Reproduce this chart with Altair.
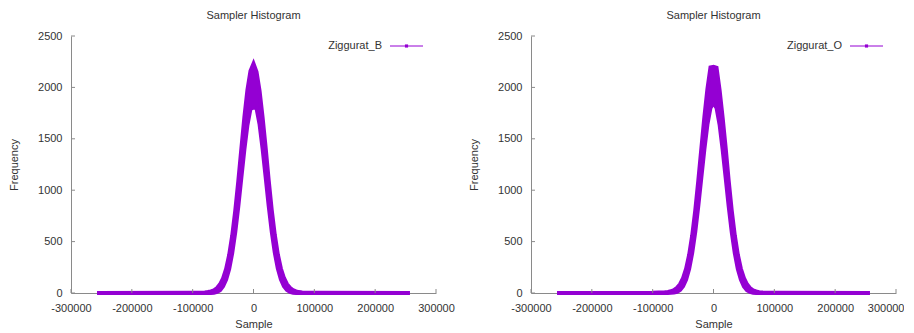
import altair as alt
import pandas as pd

# ---------------- data ----------------
X = [-257000, -100000, -90000, -80000, -75000, -70000, -65000, -60000, -55000,
     -50000, -45000, -40000, -35000, -30000, -25000, -20000, -15000, -10000,
     -5000, 0, 5000, 10000, 15000, 20000, 25000, 30000, 35000, 40000, 45000,
     50000, 55000, 60000, 65000, 70000, 75000, 80000, 90000, 100000, 257000]

# Ziggurat_B : upper / lower edge of the noisy band
B_UP = [0, 2, 3, 5, 9, 15, 26, 48, 84, 143, 234, 370, 558, 800, 1088, 1402, 1710, 1975,
        2160, 2230, 2150, 1965, 1705, 1410, 1095, 805, 565, 375, 238, 146, 86, 50, 27,
        16, 9, 5, 3, 2, 0]
B_LO = [0, 0, 0, 0, 0, 1, 3, 10, 28, 65, 130, 234, 388, 592, 842, 1120, 1395, 1634,
        1790, 1805, 1795, 1640, 1400, 1125, 845, 595, 392, 238, 132, 66, 29, 11, 3,
        1, 0, 0, 0, 0, 0]

# Ziggurat_O : upper / lower edge of the noisy band
O_UP = [0, 2, 4, 7, 11, 17, 28, 50, 86, 145, 236, 372, 560, 803, 1092, 1405, 1712, 1985,
        2195, 2200, 2190, 1975, 1708, 1412, 1090, 800, 560, 372, 236, 144, 84, 48, 26,
        15, 8, 4, 3, 2, 0]
O_LO = [0, 0, 0, 0, 1, 2, 4, 11, 29, 66, 131, 236, 390, 594, 845, 1122, 1398, 1640,
        1800, 1850, 1800, 1638, 1396, 1120, 842, 590, 388, 234, 130, 64, 28, 10, 3,
        1, 0, 0, 0, 0, 0]

SERIES = ["Ziggurat_B", "Ziggurat_O"]
X_TICKS = [-300000, -200000, -100000, 0, 100000, 200000, 300000]
Y_TICKS = [0, 500, 1000, 1500, 2000, 2500]

PURPLE = "#9400D3"
AXIS_GREY = "#8a8a8a"
TEXT = "#333333"
FONT = "Liberation Sans"
W, H = 365, 257


def panel(up, lo, name, last_panel=False):
    df = pd.DataFrame({"x": X, "up": up, "lo": lo})
    xt = pd.DataFrame({"t": X_TICKS})
    yt = pd.DataFrame({"t": Y_TICKS})
    leg = pd.DataFrame({"name": [name]})

    xscale = alt.Scale(domain=[-300000, 300000], nice=False, zero=False)
    yscale = alt.Scale(domain=[0, 2500], nice=False)

    xaxis_extra = {}
    if last_panel:
        last = X_TICKS[-1]
        xaxis_extra = dict(
            labelAlign={"condition": {"test": f"datum.value == {last}", "value": "right"},
                        "value": "center"},
            labelOffset={"condition": {"test": f"datum.value == {last}", "value": 8},
                         "value": 0},
        )

    base = alt.Chart(df)
    area = base.mark_area(color=PURPLE, opacity=1).encode(
        x=alt.X("x:Q", scale=xscale, title="Sample",
                axis=alt.Axis(values=X_TICKS, grid=False,
                              ticks=False, tickSize=0, labelPadding=9.5,
                              titlePadding=5, labelExpr="toString(datum.value)",
                              domainColor=AXIS_GREY, labelColor=TEXT,
                              titleColor=TEXT, labelFont=FONT, titleFont=FONT,
                              labelFontSize=11, titleFontSize=11,
                              titleFontWeight="normal", labelFlush=False,
                              labelOverlap=False, **xaxis_extra)),
        y=alt.Y("lo:Q", scale=yscale, title="Frequency",
                axis=alt.Axis(values=Y_TICKS, grid=False,
                              ticks=False, tickSize=0, labelPadding=9,
                              titlePadding=18.5, domainColor=AXIS_GREY,
                              labelExpr="toString(datum.value)",
                              labelColor=TEXT, titleColor=TEXT, labelFont=FONT,
                              titleFont=FONT, labelFontSize=11, titleFontSize=11,
                              titleFontWeight="normal", labelFlush=False)),
        y2="up:Q",
    )
    line_up = base.mark_line(color=PURPLE, strokeWidth=4).encode(
        x=alt.X("x:Q", scale=xscale, title="Sample"),
        y=alt.Y("up:Q", scale=yscale, title="Frequency"),
    )
    line_lo = base.mark_line(color=PURPLE, strokeWidth=4).encode(
        x=alt.X("x:Q", scale=xscale, title="Sample"),
        y=alt.Y("lo:Q", scale=yscale, title="Frequency"),
    )
    xticks = alt.Chart(xt).mark_rule(color=AXIS_GREY, strokeWidth=1).encode(
        x=alt.X("t:Q", scale=xscale, title="Sample"),
        y=alt.value(H), y2=alt.value(H - 4),
    )
    yticks = alt.Chart(yt).mark_rule(color=AXIS_GREY, strokeWidth=1).encode(
        y=alt.Y("t:Q", scale=yscale, title="Frequency"),
        x=alt.value(0), x2=alt.value(4),
    )
    legtext = alt.Chart(leg).mark_text(
        align="right", baseline="middle", font=FONT, fontSize=11, color=TEXT
    ).encode(text="name:N", x=alt.value(311), y=alt.value(10))
    legline = alt.Chart(leg).mark_rule(color=PURPLE, strokeWidth=1).encode(
        x=alt.value(319), x2=alt.value(352), y=alt.value(10))
    legpt = alt.Chart(leg).mark_square(color=PURPLE, size=10, opacity=1).encode(
        x=alt.value(335.5), y=alt.value(10))

    return alt.layer(area, line_up, line_lo, xticks, yticks, legtext, legline, legpt).properties(
        width=W, height=H,
        title=alt.TitleParams("Sampler Histogram", font=FONT, fontSize=11,
                              fontWeight="normal", color=TEXT, offset=9.5,
                              anchor="middle"),
    )


chart = alt.hconcat(
    panel(B_UP, B_LO, SERIES[0]),
    panel(O_UP, O_LO, SERIES[1], last_panel=True),
    spacing=95, bounds="flush",
).properties(padding={"left": 0, "top": 1, "right": 0, "bottom": 0}).configure_view(stroke=None)

chart.save("out.html", embed_options={"renderer": "svg", "actions": False})
